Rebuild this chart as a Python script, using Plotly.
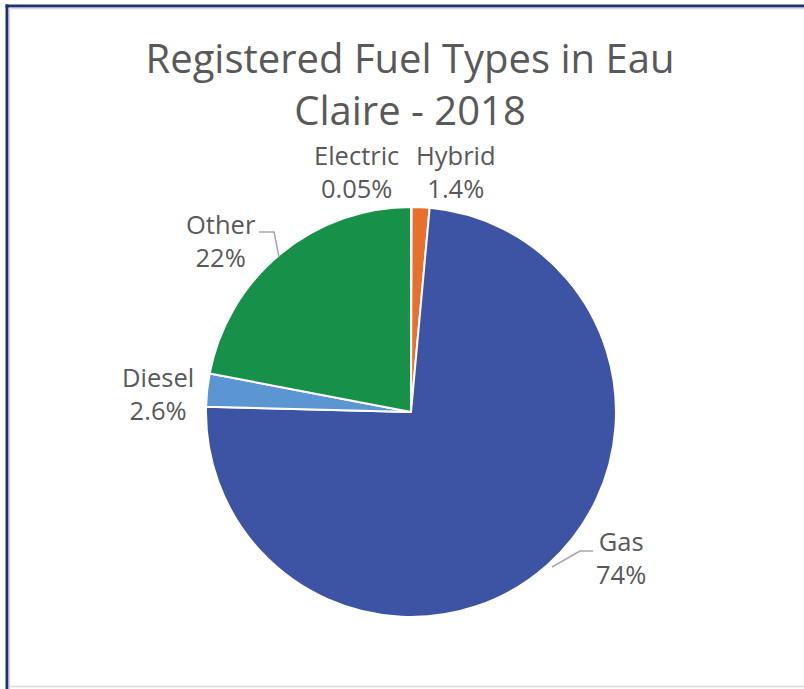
import plotly.graph_objects as go

# ---- data ----
fuel_types = ["Electric", "Hybrid", "Gas", "Diesel", "Other"]
shares = [0.05, 1.4, 74, 2.6, 22]
share_labels = ["0.05%", "1.4%", "74%", "2.6%", "22%"]
slice_colors = ["#A5A5A5", "#E96F2C", "#3D54A4", "#5B96D2", "#17904A"]

# ---- layout (pixel positions of the data-label blocks, like the source chart) ----
W, H = 804, 689
ML, MR, MT, MB = 206, 188, 207, 72
label_pos = {
    "Electric": (356, 172),
    "Hybrid": (456, 172),
    "Other": (221, 240),
    "Diesel": (158, 393),
    "Gas": (621, 557),
}
leader_paths = [
    [(259, 232), (274, 232), (279, 257)],   # Other
    [(593, 551), (580, 551), (552, 567)],   # Gas
]

def px_x(p):
    return (p - ML) / (W - ML - MR)

def px_y(p):
    return 1 - (p - MT) / (H - MT - MB)

TXT = "#595959"
FONT = "Open Sans, Liberation Sans, Arial"

fig = go.Figure(go.Pie(
    labels=fuel_types,
    values=shares,
    customdata=share_labels,
    textinfo="none",
    sort=False,
    direction="clockwise",
    rotation=0,
    marker=dict(colors=slice_colors, line=dict(color="white", width=2)),
    showlegend=False,
    hovertemplate="%{label}: %{customdata}<extra></extra>",
))

annotations = []
for name, pct in zip(fuel_types, share_labels):
    x, y = label_pos[name]
    annotations.append(dict(
        xref="paper", yref="paper", x=px_x(x), y=px_y(y),
        xanchor="center", yanchor="middle", showarrow=False,
        text=f"{name}<br>{pct}",
        font=dict(family=FONT, size=25.5, color=TXT),
    ))

shapes = []
for path in leader_paths:
    d = "M " + " L ".join(f"{px_x(a)},{px_y(b)}" for a, b in path)
    shapes.append(dict(type="path", xref="paper", yref="paper", path=d,
                       line=dict(color="#A6A6A6", width=1.5)))

shapes += [
    # outer navy frame (top & left)
    dict(type="line", xref="paper", yref="paper", x0=px_x(5.5), x1=px_x(810), y0=px_y(6), y1=px_y(6),
         line=dict(color="#1F3170", width=3)),
    dict(type="line", xref="paper", yref="paper", x0=px_x(7), x1=px_x(7), y0=px_y(4.5), y1=px_y(700),
         line=dict(color="#1F3170", width=3)),
    # inner light gray lines
    dict(type="line", xref="paper", yref="paper", x0=px_x(9), x1=px_x(810), y0=px_y(8.5), y1=px_y(8.5),
         line=dict(color="#D9D9D9", width=1.5)),
    dict(type="line", xref="paper", yref="paper", x0=px_x(9.5), x1=px_x(9.5), y0=px_y(8), y1=px_y(700),
         line=dict(color="#D9D9D9", width=1.5)),
    dict(type="line", xref="paper", yref="paper", x0=px_x(9), x1=px_x(810), y0=px_y(686.5), y1=px_y(686.5),
         line=dict(color="#D9D9D9", width=1.5)),
]

fig.update_layout(
    width=W, height=H,
    margin=dict(l=ML, r=MR, t=MT, b=MB, autoexpand=False),
    paper_bgcolor="white",
    plot_bgcolor="white",
    title=dict(
        text="Registered Fuel Types in Eau<br>Claire - 2018",
        x=px_x(410), xref="paper", xanchor="center",
        y=1 - 73 / H, yanchor="middle", yref="container",
        font=dict(family=FONT, size=40, color=TXT),
    ),
    annotations=annotations,
    shapes=shapes,
)

fig.write_html("out.html", config={"displayModeBar": False},
               post_script="document.body.style.margin='0';")
